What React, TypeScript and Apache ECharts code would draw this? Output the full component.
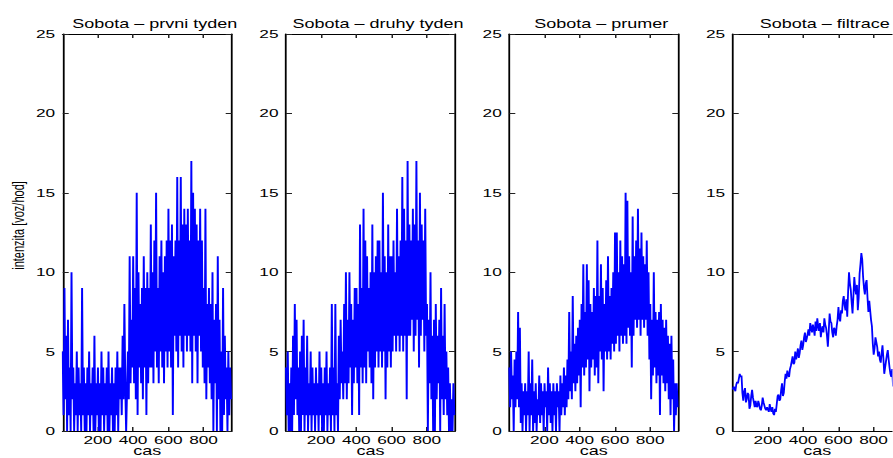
import React, { useEffect, useRef } from "react";
import * as echarts from "echarts";

// ---- text ----
const panelTitles = [
  "Sobota \u2013 prvni tyden",
  "Sobota \u2013 druhy tyden",
  "Sobota \u2013 prumer",
  "Sobota \u2013 filtrace",
];
const xAxisName = "cas";
const yAxisName = "intenzita [voz/hod]";
const xTickValues = [200, 400, 600, 800];

// ---- axis ranges ----
const xMin = 1;
const xMax = 960;
const yMin = 0;
const yMax = 25;
const yInterval = 5;

// ---- sampling of the series (x = sampleStart + i * step) ----
const sampleStart = 1;
const sampleStep = 5;

// ---- data ----
const prvniTyden = [
  5, 1, 9, 2, 6, 0, 7, 1, 4, 0, 10, 2,
  4, 0, 3, 1, 5, 0, 4, 1, 3, 0,
  9, 1, 4, 0, 3, 0, 4, 1, 5, 0,
  3, 1, 4, 0, 6, 0, 3, 1, 4, 0,
  3, 0, 5, 1, 4, 0, 3, 1, 4, 0,
  5, 0, 3, 1, 4, 0, 3, 0, 4, 1,
  5, 0, 4, 2, 4, 1,
  6, 2, 8, 3, 0, 0, 5, 2, 11, 3, 7, 4,
  11, 3, 9, 2, 15, 1, 10, 4, 8, 3, 9, 2, 11, 4, 9, 1, 10, 3, 9, 4,
  13, 4, 10, 3, 12, 5, 15, 4, 9, 3, 11, 5, 12, 4, 10, 3, 11, 5, 12, 4,
  14, 5, 12, 4, 13, 1, 11, 6, 12, 5, 16, 4, 12, 6, 16, 5, 13, 4, 14, 6,
  13, 5, 14, 6, 12, 5, 17, 3, 15, 6, 14, 5, 13, 3, 12, 6, 14, 5, 12, 4,
  9, 3, 14, 2, 8, 4, 9, 3, 8, 2, 10, 0, 7, 3, 8, 0, 11, 2, 7, 0,
  5, 0, 9, 1, 6, 2, 4, 0, 5, 1, 4, 2,
];

const druhyTyden = [
  4, 1, 5, 0, 3, 0, 4, 0, 6, 1, 8, 2,
  7, 1, 4, 0, 5, 0, 6, 1, 7, 0,
  4, 1, 6, 0, 3, 1, 5, 0, 4, 1,
  3, 0, 4, 1, 3, 0, 5, 1, 4, 0,
  3, 0, 4, 1, 5, 0, 3, 1, 4, 0,
  8, 1, 4, 0, 8, 1, 3, 0,
  6, 2, 7, 3, 5, 2, 8, 3, 10, 2, 7, 3, 10, 4, 8, 1, 7, 3, 9, 4,
  9, 3, 8, 1, 13, 4, 9, 3, 14, 4, 12, 3, 11, 5, 9, 4, 10, 3, 13, 2,
  10, 4, 11, 5, 12, 4, 12, 5, 10, 4, 15, 5, 11, 2, 10, 4, 13, 5, 11, 4,
  11, 5, 12, 6, 10, 5, 14, 6, 11, 5, 12, 6, 16, 5, 14, 6, 12, 2, 17, 6,
  13, 6, 12, 7, 14, 5, 13, 6, 17, 7, 12, 4, 15, 6, 13, 7, 12, 5, 14, 6,
  8, 0, 7, 3, 10, 2, 6, 0, 7, 0, 8, 2, 6, 3, 7, 0, 9, 2, 6, 1,
  8, 2, 5, 1, 4, 0, 3, 0, 2, 0, 3, 1,
];

const prumer = [
  4, 1.5, 5, 2, 3.5, 0, 4.5, 1.5, 5, 2, 7.5, 1.5,
  6.5, 0.5, 3, 0, 2.5, 1, 3, 0, 2.5, 1,
  5, 0, 3, 1, 4.5, 0, 2.5, 0.5, 3, 0,
  2, 1, 3.5, 0.5, 3, 1, 2.5, 0, 3, 1.5,
  2.5, 0, 4, 1, 3, 0.5, 2.5, 0, 3, 1,
  2.5, 0, 3, 1.5, 2.5, 0, 3.5, 1, 3, 1.5,
  4, 1, 3.5, 1.5, 4.5, 2,
  7.5, 2.5, 5, 2, 8.5, 3, 5.5, 2.5, 6, 3, 6.5, 3.5,
  7, 1.5, 8, 4, 10.5, 3.5, 7.5, 4, 10.5, 4.5, 9.5, 2.5, 8, 4, 7.5, 4.5, 9, 3.5, 8.5, 4,
  12, 3, 8.5, 5, 10.5, 4.5, 9, 2.5, 8, 5, 9.5, 4.5, 11, 5, 8.5, 4.5, 9, 5.5, 10, 5,
  12.5, 5.5, 12.5, 6, 10, 5, 12, 6, 11, 5.5, 10.5, 6, 15, 5.5, 14.5, 6.5, 11, 6, 10, 4,
  13.5, 6, 11, 7, 12, 6.5, 14, 7, 11.5, 6, 12.5, 7, 11, 6.5, 10.5, 7, 12, 6, 10, 4.5,
  8, 2, 7, 3.5, 10, 4, 7.5, 3, 7, 3.5, 7.5, 1, 8, 3.5, 7, 3, 6.5, 2.5, 7, 3,
  6, 2, 5.5, 1, 6, 2, 4.5, 0, 3, 1, 3, 1.5,
];

const filtrace = [
  2.6, 2.8, 2.7, 2.5, 2.9, 3.1, 3.0, 3.3, 3.6, 3.4,
  3.5, 2.4, 1.9, 2.5, 2.7, 1.8, 2.0, 2.4, 2.3, 1.4,
  1.6, 2.2, 2.6, 2.1, 1.8, 1.5, 1.9, 1.6, 1.5, 1.9,
  1.7, 1.4, 1.3, 1.6, 2.1, 1.8, 1.6, 1.4, 1.3, 1.5,
  1.5, 1.2, 1.7, 1.4, 1.2, 1.5, 1.1, 1.0, 1.4, 1.2,
  1.7, 2.2, 2.3, 1.9, 2.0, 2.6, 3.0, 2.2, 2.4, 3.1,
  3.6, 3.3, 3.8, 3.5, 3.4, 3.9, 4.1, 4.4, 4.7, 4.2,
  4.3, 5.0, 4.5, 4.8, 5.2, 4.6, 4.9, 5.4, 5.7, 5.1,
  5.4, 5.9, 6.2, 5.6, 5.8, 6.1, 6.4, 6.0, 6.8, 6.5,
  6.2, 6.7, 6.4, 6.0, 6.9, 6.3, 7.1, 6.6, 6.3, 6.8,
  5.9, 6.4, 6.6, 6.2, 7.1, 6.7, 6.5, 6.0, 5.3, 6.3,
  7.4, 6.9, 6.8, 6.2, 5.9, 6.5, 6.4, 6.0, 6.6, 7.0,
  7.8, 7.1, 6.9, 7.6, 7.4, 8.2, 8.5, 7.9, 7.6, 8.3,
  7.2, 8.8, 10.0, 9.3, 8.9, 8.1, 7.4, 8.5, 9.7, 9.0,
  8.6, 9.2, 7.6, 8.4, 9.9, 10.5, 11.2, 10.8, 9.7, 9.0,
  8.6, 9.3, 9.5, 8.4, 7.5, 8.2, 7.6, 7.0, 6.6, 5.5,
  4.8, 5.2, 5.9, 5.6, 5.3, 4.7, 5.0, 4.5, 4.3, 4.9,
  5.4, 4.6, 3.6, 4.0, 4.4, 4.8, 5.1, 4.5, 4.0, 3.6,
  3.4, 3.9, 2.8, 3.0, 3.2, 2.7, 2.6, 3.0, 2.9, 2.6,
  2.5, 2.8,
];

const panelSeries = [
  { values: prvniTyden, width: 1.3 },
  { values: druhyTyden, width: 1.3 },
  { values: prumer, width: 1.3 },
  { values: filtrace, width: 1.2 },
];

function toPairs(values: number[]) {
  return values.map((v, i) => [sampleStart + i * sampleStep, v]);
}

const STRETCH = 1.5;
const PAGE_W = 893;
const PAGE_H = 458;

export default function App() {
  const ref = useRef<HTMLDivElement>(null);

  useEffect(() => {
    if (!ref.current) return;
    const chart = echarts.init(ref.current, null, { renderer: "svg" });
    const font = "'Liberation Sans', Arial, Helvetica, sans-serif";
    const screenLefts = [62.7, 286, 509.3, 732.7];
    const lefts = screenLefts.map((v) => v / STRETCH);
    const w = 169 / STRETCH;
    const top = 34;
    const h = 397;
    const black = "#000";

    const grids: any[] = [];
    const xAxes: any[] = [];
    const yAxes: any[] = [];
    const series: any[] = [];
    const titles: any[] = [];

    panelSeries.forEach((p, i) => {
      grids.push({
        left: lefts[i],
        top,
        width: w,
        height: h,
        containLabel: false,
        outerBoundsMode: "none",
      });
      titles.push({
        text: panelTitles[i],
        left: lefts[i] + w / 2,
        top: 13,
        textAlign: "center",
        textStyle: {
          fontFamily: font,
          fontSize: 12,
          fontWeight: "normal",
          color: black,
        },
      });
      const axisLine = { show: true, onZero: false, lineStyle: { color: black, width: 1.2 } };
      const tick = {
        show: true,
        inside: true,
        length: 4,
        lineStyle: { color: "#222", width: 1 },
      };
      xAxes.push({
        type: "value",
        gridIndex: i,
        position: "bottom",
        min: xMin,
        max: xMax,
        axisLine,
        axisTick: { ...tick, customValues: xTickValues },
        axisLabel: {
          show: true,
          customValues: xTickValues,
          fontFamily: font,
          fontSize: 11.5,
          color: black,
          margin: 3,
        },
        splitLine: { show: false },
        name: xAxisName,
        nameLocation: "middle",
        nameGap: 14,
        nameMoveOverlap: false,
        nameTextStyle: { fontFamily: font, fontSize: 12, color: black },
      });
      xAxes.push({
        type: "value",
        gridIndex: i,
        position: "top",
        min: xMin,
        max: xMax,
        axisLine,
        axisTick: { ...tick, customValues: xTickValues },
        axisLabel: { show: false },
        splitLine: { show: false },
      });
      yAxes.push({
        type: "value",
        gridIndex: i,
        position: "left",
        min: yMin,
        max: yMax,
        interval: yInterval,
        axisLine,
        axisTick: tick,
        axisLabel: {
          show: true,
          fontFamily: font,
          fontSize: 11.5,
          color: black,
          margin: 5,
        },
        splitLine: { show: false },
        name: i === 0 ? yAxisName : "",
        nameLocation: "middle",
        nameRotate: 90,
        nameGap: 24,
        nameMoveOverlap: false,
        nameTextStyle: {
          fontFamily: font,
          fontSize: 11,
          color: black,
          padding: [0, 0, 0, 14],
        },
      });
      yAxes.push({
        type: "value",
        gridIndex: i,
        position: "right",
        min: yMin,
        max: yMax,
        interval: yInterval,
        axisLine,
        axisTick: tick,
        axisLabel: { show: false },
        splitLine: { show: false },
      });
      series.push({
        type: "line",
        xAxisIndex: 2 * i,
        yAxisIndex: 2 * i,
        data: toPairs(p.values),
        showSymbol: false,
        symbol: "none",
        lineStyle: { color: "#0000ff", width: p.width },
        itemStyle: { color: "#0000ff" },
        silent: true,
      });
    });

    chart.setOption({
      animation: false,
      backgroundColor: "#fff",
      title: titles,
      grid: grids,
      xAxis: xAxes,
      yAxis: yAxes,
      series,
    });

    return () => chart.dispose();
  }, []);

  return (
    <div
      style={{
        position: "absolute",
        left: 0,
        top: 0,
        width: PAGE_W,
        height: PAGE_H,
        overflow: "hidden",
        background: "#fff",
      }}
    >
      <div
        ref={ref}
        style={{
          width: PAGE_W / STRETCH,
          height: PAGE_H,
          transform: `scaleX(${STRETCH})`,
          transformOrigin: "0 0",
        }}
      />
    </div>
  );
}
